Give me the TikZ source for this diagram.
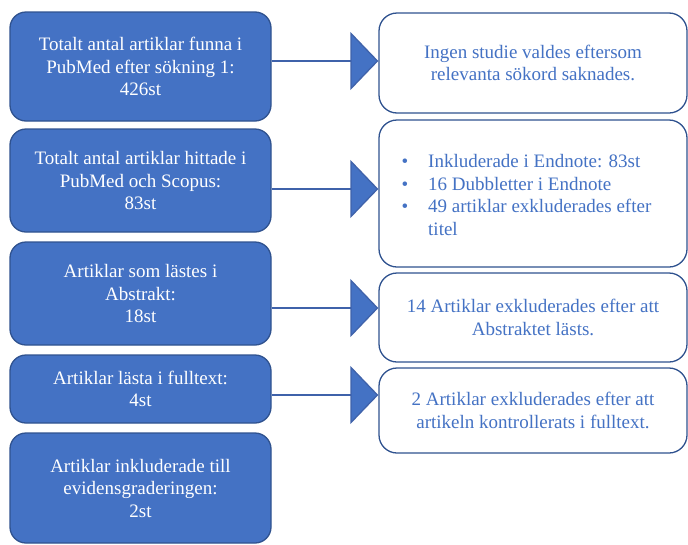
\documentclass[tikz,border=0pt]{standalone}
\usepackage{fontspec}
\setmainfont{Liberation Serif}
\usepackage{tikz}
\usetikzlibrary{positioning,arrows.meta}
\usepackage{xcolor}
\definecolor{stepblue}{HTML}{4472C4}
\definecolor{stepline}{HTML}{2F528F}
\definecolor{linkblue}{HTML}{3F62AA}

\begin{document}
\begin{tikzpicture}[x=1pt,y=-1pt,
  stage/.style={draw=stepline,line width=1.3pt,fill=stepblue,rounded corners=16pt,inner sep=0pt,minimum width=261pt,text=white,align=center,font=\fontsize{19}{22.5}\selectfont},
  note/.style={draw=stepline,line width=1.3pt,fill=white,rounded corners=18pt,inner sep=0pt,minimum width=308pt,text=stepblue,align=center,font=\fontsize{19}{22.5}\selectfont},
  flow/.style={draw=linkblue,line width=1.3pt,-{Triangle[length=28pt,width=58pt,fill=stepblue]}}]
\useasboundingbox (0,0) rectangle (688,544);
% left column
\node[stage,minimum height=109pt] (found) at (140.5,66.5) {Totalt antal artiklar funna i\\PubMed efter sökning 1:\\426st};
\node[stage,minimum height=103pt] (hits) at (140.5,180.5) {Totalt antal artiklar hittade i\\PubMed och Scopus:\\83st};
\node[stage,minimum height=103pt] (abstr) at (140.5,293.5) {Artiklar som lästes i\\Abstrakt:\\18st};
\node[stage,minimum height=68pt] (full) at (140.5,389) {Artiklar lästa i fulltext:\\4st};
\node[stage,minimum height=110pt] (incl) at (140.5,488) {Artiklar inkluderade till\\evidensgraderingen:\\2st};
% right column
\node[note,minimum height=100pt] (none) at (533,63) {Ingen studie valdes eftersom\\relevanta sökord saknades.};
\node[note,minimum height=147pt] (endnote) at (533,193.5) {};
\node[text=stepblue,font=\fontsize{19}{22.5}\selectfont,anchor=west] (list) at (398,197) {\begin{tabular}{@{}l@{\hspace{20pt}}l@{}}
\textbullet & Inkluderade i Endnote: 83st\\
\textbullet & 16 Dubbletter i Endnote\\
\textbullet & 49 artiklar exkluderades efter\\
 & titel
\end{tabular}};
\node[note,minimum height=89pt] (exabs) at (533,317.5) {14 Artiklar exkluderades efter att\\Abstraktet lästs.};
\node[note,minimum height=85pt] (exfull) at (533,410.5) {2 Artiklar exkluderades efter att\\artikeln kontrollerats i fulltext.};
% arrows
\draw[flow] (found.east |- 0,61) -- (none.west |- 0,61);
\draw[flow] (hits.east |- 0,189) -- (endnote.west |- 0,189);
\draw[flow] (abstr.east |- 0,308) -- (exabs.west |- 0,308);
\draw[flow] (full.east |- 0,395) -- (exfull.west |- 0,395);
\end{tikzpicture}
\end{document}
